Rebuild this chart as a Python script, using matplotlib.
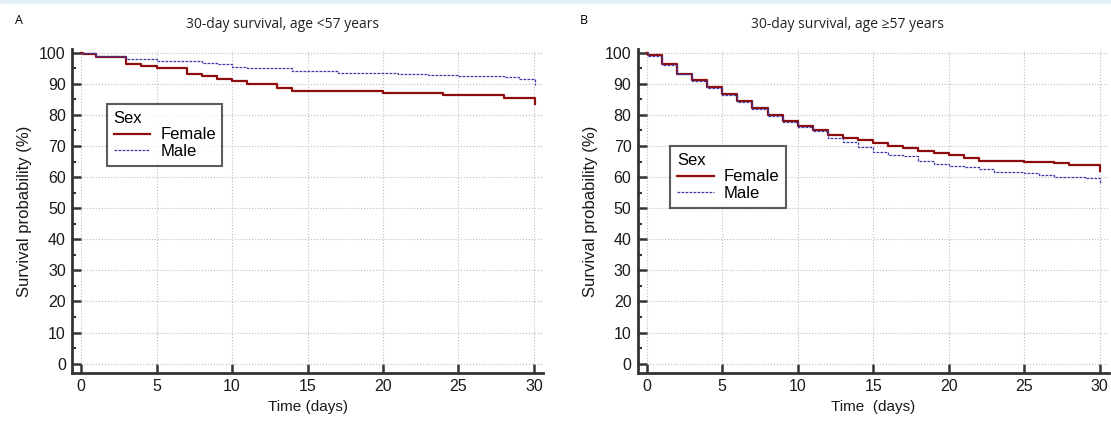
import numpy as np
import matplotlib.pyplot as plt
from matplotlib.ticker import MultipleLocator

plt.rcParams['font.family'] = ['Liberation Sans', 'DejaVu Sans']

# panel A: age <57 years (time in days, survival in %)
a_female_t = [0, 0.1, 1, 3, 4, 5, 7, 8, 9, 10, 11, 13, 14, 20, 24, 28, 30.05]
a_female_s = [100, 99.5, 98.5, 96.5, 95.6, 95.2, 93.1, 92.5, 91.7, 90.8, 90.1, 88.8, 87.8, 87.1, 86.5, 85.3, 83.5]
a_male_t = [0, 1, 3, 5, 8, 9, 10, 11, 14, 17, 21, 23, 25, 28, 29, 30.05]
a_male_s = [99.9, 98.9, 98.1, 97.3, 96.8, 96.3, 95.5, 95.0, 94.2, 93.6, 93.0, 92.7, 92.5, 92.2, 91.4, 89.6]

# panel B: age >=57 years
b_female_t = [0, 0.1] + list(range(1, 24)) + [25, 27, 28, 29, 30]
b_female_s = [100, 99.4, 96.3, 93.3, 91.1, 89.0, 86.6, 84.4, 82.2, 79.9, 77.9, 76.4,
              75.2, 73.7, 72.6, 71.8, 70.9, 70.1, 69.4, 68.5, 67.8, 67.0, 66.2, 65.3,
              65.1, 64.9, 64.6, 64.0, 63.8, 61.9]
b_male_t = [0, 0.1] + list(range(1, 24)) + [25, 26, 27, 29, 30]
b_male_s = [100, 99.1, 96.0, 93.0, 90.8, 88.7, 86.3, 84.1, 81.9, 79.6, 77.6, 76.2,
            74.8, 72.7, 71.2, 69.7, 68.1, 67.2, 66.9, 65.1, 64.3, 63.7, 63.2, 62.5,
            61.6, 61.2, 60.6, 60.1, 59.8, 57.8]

x_ticks = [0, 5, 10, 15, 20, 25, 30]
y_ticks = [0, 10, 20, 30, 40, 50, 60, 70, 80, 90, 100]

red = '#8e0c0c'
blue = '#3a3aa8'
dark = '#333333'

fig = plt.figure(figsize=(11.11, 4.21), dpi=100)

# thin light band along the top edge
fig.patches.append(plt.Rectangle((0, 0.992), 1, 0.008, transform=fig.transFigure,
                                 color='#e3f1f2', zorder=0))

H = 421.0
W = 1111.0
axA = fig.add_axes([72 / W, (H - 372.7) / H, 471 / W, 323.7 / H])
axB = fig.add_axes([637.7 / W, (H - 372.7) / H, 471 / W, 323.7 / H])

panels = [
    (axA, a_female_t, a_female_s, a_male_t, a_male_s, 'Time (days)', (0.074, 0.83)),
    (axB, b_female_t, b_female_s, b_male_t, b_male_s, 'Time  (days)', (0.069, 0.70)),
]

for ax, ft, fs, mt, ms, xlab, leg_pos in panels:
    ax.plot(ft, fs, drawstyle='steps-post', color=red, lw=1.6, label='Female', zorder=3)
    ax.plot(mt, ms, drawstyle='steps-post', color=blue, lw=0.9,
            linestyle=(0, (2.2, 1.0)), label='Male', zorder=4)

    ax.set_xlim(-0.6, 30.6)
    ax.set_ylim(-2.9, 101.2)
    ax.set_xticks(x_ticks)
    ax.set_yticks(y_ticks)
    ax.yaxis.set_minor_locator(MultipleLocator(5))
    ax.grid(True, which='major', color='#bdbdbd', linestyle=':', lw=0.8)

    for side in ['top', 'right']:
        ax.spines[side].set_visible(False)
    for side in ['left', 'bottom']:
        ax.spines[side].set_color(dark)
        ax.spines[side].set_linewidth(2)

    ax.tick_params(axis='both', which='major', direction='in', length=6.5, width=1.8,
                   color=dark, labelsize=11.5, labelcolor='#1a1a1a', pad=4.5)
    ax.tick_params(axis='y', which='minor', direction='in', length=3, width=1.5, color=dark)
    ax.tick_params(axis='x', which='minor', bottom=False)

    ax.set_xlabel(xlab, fontsize=11, labelpad=4, color='#1a1a1a')
    ax.set_ylabel('Survival probability (%)', fontsize=12, labelpad=5, color='#1a1a1a')

    leg = ax.legend(title='Sex', loc='upper left', bbox_to_anchor=leg_pos,
                    fontsize=12, title_fontsize=12, frameon=True, fancybox=False,
                    edgecolor=dark, handlelength=2.2, borderpad=0.4,
                    labelspacing=0.1, handletextpad=0.6, borderaxespad=0,
                    alignment='left')
    leg.get_frame().set_linewidth(1.5)

fig.text(15 / W, 1 - 20 / H, 'A', fontsize=9, va='center', ha='left', family='Open Sans')
fig.text(580 / W, 1 - 20 / H, 'B', fontsize=9, va='center', ha='left', family='Open Sans')
fig.text(282 / W, 1 - 25 / H, '30-day survival, age <57 years', fontsize=10,
         ha='center', va='center', family='Open Sans', color='#222222')
fig.text(847 / W, 1 - 25 / H, '30-day survival, age \u226557 years', fontsize=10,
         ha='center', va='center', family='Open Sans', color='#222222')

fig.savefig('out.png', dpi=100)
